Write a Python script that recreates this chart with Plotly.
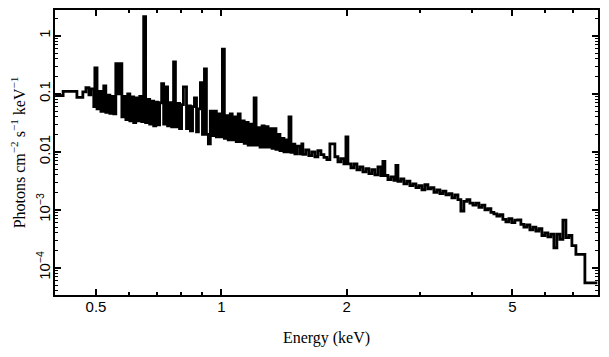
import plotly.graph_objects as go

# Bin left edges (keV) and flux (photons cm^-2 s^-1 keV^-1)
energy_lo = [
    0.399, 0.417, 0.450, 0.465, 0.473, 0.481, 0.486, 0.494, 0.497, 0.503,
    0.508, 0.514, 0.520, 0.522, 0.528, 0.534, 0.540, 0.546, 0.552, 0.558,
    0.564, 0.571, 0.577, 0.583, 0.590, 0.596, 0.603, 0.610, 0.616, 0.623,
    0.630, 0.637, 0.644, 0.651, 0.658, 0.666, 0.673, 0.680, 0.688, 0.696,
    0.703, 0.711, 0.719, 0.727, 0.735, 0.743, 0.751, 0.760, 0.768, 0.776,
    0.785, 0.794, 0.803, 0.811, 0.825, 0.834, 0.843, 0.853, 0.862, 0.872,
    0.881, 0.891, 0.901, 0.911, 0.921, 0.931, 0.941, 0.952, 0.962, 0.973,
    0.984, 0.995, 1.006, 1.017, 1.028, 1.039, 1.051, 1.062, 1.074, 1.086,
    1.098, 1.110, 1.122, 1.135, 1.147, 1.160, 1.173, 1.186, 1.199, 1.212,
    1.226, 1.239, 1.253, 1.267, 1.281, 1.295, 1.309, 1.324, 1.338, 1.353,
    1.368, 1.383, 1.399, 1.414, 1.430, 1.446, 1.454, 1.470, 1.486, 1.502,
    1.519, 1.544, 1.561, 1.570, 1.596, 1.623, 1.650, 1.678, 1.706, 1.735,
    1.764, 1.793, 1.823, 1.874, 1.906, 1.937, 1.970, 1.992, 2.014, 2.048,
    2.082, 2.117, 2.152, 2.188, 2.225, 2.262, 2.300, 2.338, 2.378, 2.417,
    2.444, 2.471, 2.513, 2.555, 2.598, 2.626, 2.656, 2.700, 2.745, 2.791,
    2.838, 2.885, 2.934, 2.983, 3.033, 3.083, 3.135, 3.187, 3.241, 3.295,
    3.350, 3.406, 3.463, 3.521, 3.580, 3.640, 3.701, 3.762, 3.825, 3.889,
    3.954, 4.021, 4.088, 4.156, 4.225, 4.296, 4.368, 4.441, 4.515, 4.590,
    4.667, 4.745, 4.825, 4.905, 4.988, 5.071, 5.156, 5.242, 5.330, 5.419,
    5.510, 5.602, 5.696, 5.791, 5.888, 5.986, 6.086, 6.188, 6.292, 6.397,
    6.504, 6.613, 6.724, 6.836, 6.951, 7.106, 7.468,
]
energy_hi_last = 8.0

flux = [
    0.093, 0.110, 0.087, 0.108, 0.127, 0.096, 0.122, 0.060, 0.280, 0.055,
    0.110, 0.050, 0.095, 0.137, 0.048, 0.095, 0.046, 0.090, 0.045, 0.330,
    0.100, 0.330, 0.040, 0.090, 0.036, 0.100, 0.034, 0.088, 0.032, 0.085,
    0.034, 0.090, 0.033, 2.150, 0.032, 0.080, 0.030, 0.075, 0.028, 0.072,
    0.029, 0.070, 0.149, 0.030, 0.132, 0.028, 0.070, 0.027, 0.356, 0.027,
    0.068, 0.025, 0.065, 0.132, 0.025, 0.062, 0.023, 0.060, 0.085, 0.022,
    0.055, 0.155, 0.020, 0.270, 0.020, 0.0137, 0.050, 0.019, 0.050, 0.018,
    0.045, 0.018, 0.590, 0.017, 0.042, 0.016, 0.045, 0.016, 0.040, 0.015,
    0.045, 0.015, 0.034, 0.014, 0.032, 0.013, 0.030, 0.013, 0.085, 0.013,
    0.026, 0.012, 0.028, 0.012, 0.027, 0.012, 0.025, 0.0115, 0.025, 0.011,
    0.020, 0.0105, 0.017, 0.0100, 0.016, 0.0100, 0.040, 0.0098, 0.0135, 0.0092,
    0.0125, 0.0092, 0.0137, 0.0090, 0.0108, 0.0086, 0.0100, 0.0082, 0.0105, 0.0089,
    0.0080, 0.0073, 0.0137, 0.0082, 0.0067, 0.0076, 0.0062, 0.018, 0.0062, 0.0053,
    0.0062, 0.0049, 0.0055, 0.0045, 0.0051, 0.0042, 0.0049, 0.0040, 0.0055, 0.0039,
    0.0068, 0.0039, 0.0033, 0.0037, 0.0032, 0.0058, 0.0031, 0.0034, 0.0028, 0.0031,
    0.0026, 0.0028, 0.0024, 0.0026, 0.0022, 0.0027, 0.0023, 0.0024, 0.0020, 0.0022,
    0.0019, 0.0021, 0.0018, 0.0019, 0.0016, 0.0018, 0.0015, 0.00095, 0.0014, 0.0015,
    0.0013, 0.0012, 0.0013, 0.0011, 0.0012, 0.0010, 0.00105, 0.00090, 0.00085, 0.00078,
    0.00082, 0.00068, 0.00062, 0.00070, 0.00060, 0.00066, 0.00067, 0.00056, 0.00050, 0.00055,
    0.00045, 0.00050, 0.00043, 0.00047, 0.00036, 0.00040, 0.00034, 0.00038, 0.00022, 0.00038,
    0.00031, 0.00066, 0.00033, 0.00036, 0.00024, 0.00017, 0.000055,
]

x_ticks = [0.5, 1, 2, 5]
x_ticktext = ["0.5", "1", "2", "5"]
x_minor = [0.4, 0.6, 0.7, 0.8, 0.9, 3, 4, 6, 7, 8]
y_ticks = [1, 0.1, 0.01, 1e-3, 1e-4]
y_ticktext = ["1", "0.1", "0.01", "10<sup>\u22123</sup>", "10<sup>\u22124</sup>"]
y_minor = [m * 10.0 ** k for k in range(-5, 1) for m in range(2, 10)]

x_step = energy_lo + [energy_hi_last]
y_step = flux + [flux[-1]]

fig = go.Figure()
fig.add_trace(go.Scatter(
    x=x_step, y=y_step, mode="lines", line_shape="hv",
    line=dict(color="black", width=2.8, simplify=False),
    hoverinfo="skip", showlegend=False,
))

tickfont = dict(family="Liberation Sans, Arial, sans-serif", size=15, color="black")
titlefont = dict(family="Liberation Serif, Times New Roman, serif", size=16, color="black")

# The page body has an 8px default margin, so the figure is sized 8px smaller
fig.update_layout(
    width=601, height=349,
    margin=dict(l=47, r=11, t=2, b=62),
    paper_bgcolor="white", plot_bgcolor="white",
    showlegend=False,
    xaxis=dict(
        type="log", range=[-0.3994, 0.9047], automargin=False,
        tickvals=x_ticks, ticktext=x_ticktext,
        ticks="inside", ticklen=6, tickwidth=1.5, tickcolor="black",
        minor=dict(tickvals=x_minor, ticks="inside", ticklen=3, tickwidth=1.5, tickcolor="black"),
        showline=True, linecolor="black", linewidth=2, mirror="allticks",
        showgrid=False, zeroline=False,
        tickfont=tickfont, ticklabelstandoff=-3,
        title=dict(text="Energy (keV)", font=titlefont, standoff=18),
    ),
    yaxis=dict(
        type="log", range=[-4.47, 0.445], automargin=False,
        tickvals=y_ticks, ticktext=y_ticktext, tickangle=-90,
        ticks="inside", ticklen=6, tickwidth=1.5, tickcolor="black",
        minor=dict(tickvals=y_minor, ticks="inside", ticklen=3, tickwidth=1.2, tickcolor="black"),
        showline=True, linecolor="black", linewidth=2, mirror="allticks",
        showgrid=False, zeroline=False,
        tickfont=tickfont, ticklabelstandoff=-3,
        title=dict(text="Photons cm<sup>\u22122</sup> s<sup>\u22121</sup> keV<sup>\u22121</sup>",
                   font=titlefont, standoff=4),
    ),
)

fig.write_html("out.html")
